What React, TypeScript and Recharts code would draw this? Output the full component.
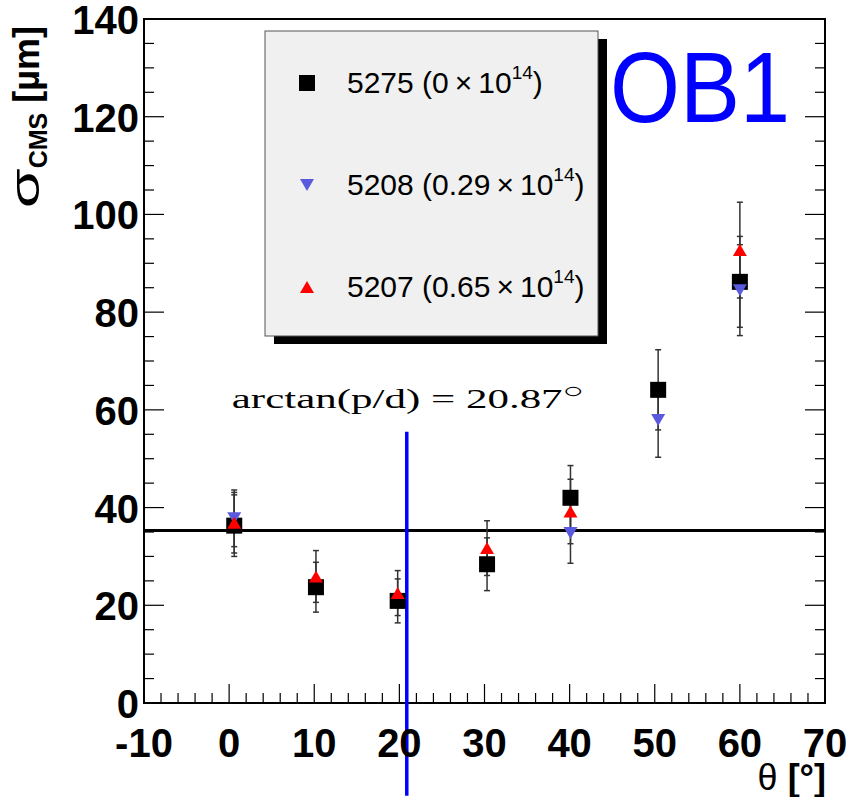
import { ScatterChart, Scatter, XAxis, YAxis, ErrorBar, ReferenceLine, ReferenceArea } from "recharts";

// angles (deg) of the measured points
const theta = [0.6, 10.2, 19.8, 30.3, 40.1, 50.4, 60.0];

// resolution per sample, null = no point drawn
const sigma5275 = [36.3, 23.7, 20.9, 28.4, 42.0, 64.1, 86.2];
const err5275 = [6.3, 5.1, 4.5, 5.4, 6.6, 8.2, 9.3];
const sigma5208 = [37.8, null, null, null, 34.8, 57.9, 84.5];
const err5208 = [5.8, null, null, null, 6.2, 7.6, 9.3];
const sigma5207 = [36.9, 25.9, 22.5, 31.7, 39.2, null, 92.7];
const err5207 = [6.2, 5.3, 4.6, 5.6, 6.6, null, 9.8];

const legendNames = ["5275 (0", "5208 (0.29", "5207 (0.65"];

const meanLine = 35.3;
const magicAngle = 20.87;

const xTicks = [-10, -8, -6, -4, -2, 0, 2, 4, 6, 8, 10, 12, 14, 16, 18, 20, 22, 24, 26, 28, 30, 32, 34, 36, 38, 40, 42, 44, 46, 48, 50, 52, 54, 56, 58, 60, 62, 64, 66, 68, 70];
const yTicks = [0, 5, 10, 15, 20, 25, 30, 35, 40, 45, 50, 55, 60, 65, 70, 75, 80, 85, 90, 95, 100, 105, 110, 115, 120, 125, 130, 135, 140];

const FONT = "'Liberation Sans', Arial, Helvetica, sans-serif";
const BLUE_MK = "#5a5ade";

const toPoints = (ys: (number | null)[], es: (number | null)[]) =>
  theta
    .map((t, i) => ({ x: t, y: ys[i], err: es[i] }))
    .filter((d) => d.y !== null);

const data5275 = toPoints(sigma5275, err5275);
const data5208 = toPoints(sigma5208, err5208);
const data5207 = toPoints(sigma5207, err5207);

const Square = (props: any) => {
  const { cx, cy } = props;
  return <rect x={cx - 8} y={cy - 8} width={16} height={16} fill="#000" />;
};
const TriDown = (props: any) => {
  const { cx, cy } = props;
  return <path d={`M${cx - 7},${cy - 6}L${cx + 7},${cy - 6}L${cx},${cy + 6}Z`} fill={BLUE_MK} />;
};
const TriUp = (props: any) => {
  const { cx, cy } = props;
  return <path d={`M${cx - 7},${cy + 6}L${cx + 7},${cy + 6}L${cx},${cy - 6}Z`} fill="#ff0000" />;
};

const BottomTick = (props: any) => {
  const { x, y, payload } = props;
  const major = payload.value % 10 === 0;
  return (
    <g>
      <line x1={x} x2={x} y1={y} y2={y - (major ? 19 : 10)} stroke="#000" strokeWidth={1.2} />
      {major && (
        <text x={x} y={y + 40} textAnchor="middle" dominantBaseline="central" fontSize={40} fontWeight="bold" fontFamily={FONT} fill="#000">
          {payload.value}
        </text>
      )}
    </g>
  );
};

const LeftTick = (props: any) => {
  const { x, y, payload } = props;
  const major = payload.value % 20 === 0;
  return (
    <g>
      <line x1={x} x2={x + (major ? 20 : 10)} y1={y} y2={y} stroke="#000" strokeWidth={1.2} />
      {major && (
        <text x={x - 5} y={y + 1} textAnchor="end" dominantBaseline="central" fontSize={40} fontWeight="bold" fontFamily={FONT} fill="#000">
          {payload.value}
        </text>
      )}
    </g>
  );
};

const RightTick = (props: any) => {
  const { x, y, payload } = props;
  const major = payload.value % 20 === 0;
  return <line x1={x} x2={x - (major ? 20 : 10)} y1={y} y2={y} stroke="#000" strokeWidth={1.2} />;
};

const AngleLabel = (props: any) => {
  const { viewBox } = props;
  return (
    <text
      x={viewBox.x + 1}
      y={viewBox.y - 24}
      textAnchor="middle"
      fontSize={27}
      fontFamily="'Liberation Serif', 'DejaVu Serif', serif"
      fill="#000"
      textLength={352}
      lengthAdjust="spacingAndGlyphs"
    >
      arctan(p/d) = {magicAngle}
      <tspan dy={-10} fontSize={22}>○</tspan>
    </text>
  );
};

const LegendMarker = ({ i, cx, cy }: { i: number; cx: number; cy: number }) => {
  if (i === 0) return <Square cx={cx} cy={cy} />;
  if (i === 1) return <TriDown cx={cx} cy={cy} />;
  return <TriUp cx={cx} cy={cy} />;
};

export default function App() {
  return (
    <div style={{ position: "absolute", left: 0, top: 0, width: 850, height: 797, background: "#fff" }}>
      <ScatterChart width={850} height={797} margin={{ top: 19, right: 20, bottom: 64, left: 84 }}>
        <XAxis
          type="number"
          dataKey="x"
          domain={[-10, 70]}
          ticks={xTicks}
          interval={0}
          tickSize={0}
          tickMargin={0}
          tickLine={false}
          axisLine={false}
          height={30}
          tick={<BottomTick />}
        />
        <YAxis
          yAxisId="l"
          type="number"
          dataKey="y"
          domain={[0, 140]}
          ticks={yTicks}
          interval={0}
          tickSize={0}
          tickMargin={0}
          tickLine={false}
          axisLine={false}
          width={60}
          tick={<LeftTick />}
        />
        <YAxis
          yAxisId="r"
          orientation="right"
          type="number"
          dataKey="y"
          domain={[0, 140]}
          ticks={yTicks}
          interval={0}
          tickSize={0}
          tickMargin={0}
          tickLine={false}
          axisLine={false}
          width={5}
          tick={<RightTick />}
        />
        <ReferenceArea yAxisId="l" x1={-10} x2={70} y1={0} y2={140} fill="none" stroke="#000" strokeWidth={2} />
        <Scatter yAxisId="r" data={data5275} shape={() => <g />} isAnimationActive={false} />
        <ReferenceLine yAxisId="l" y={meanLine} stroke="#000" strokeWidth={3} />
        <ReferenceLine
          yAxisId="l"
          segment={[{ x: magicAngle, y: -19 }, { x: magicAngle, y: 55.5 }]}
          stroke="#0000ff"
          strokeWidth={3.5}
          ifOverflow="visible"
          label={<AngleLabel />}
        />
        <Scatter yAxisId="l" data={data5275} shape={<Square />} isAnimationActive={false}>
          <ErrorBar dataKey="err" direction="y" width={3} stroke="#333" strokeWidth={1.5} />
        </Scatter>
        <Scatter yAxisId="l" data={data5208} shape={<TriDown />} isAnimationActive={false}>
          <ErrorBar dataKey="err" direction="y" width={3} stroke="#333" strokeWidth={1.5} />
        </Scatter>
        <Scatter yAxisId="l" data={data5207} shape={<TriUp />} isAnimationActive={false}>
          <ErrorBar dataKey="err" direction="y" width={3} stroke="#333" strokeWidth={1.5} />
        </Scatter>
      </ScatterChart>

      <svg width={850} height={797} style={{ position: "absolute", left: 0, top: 0, pointerEvents: "none" }}>
        {/* legend box with shadow */}
        <rect x={274} y={39} width={333} height={305} fill="#000" />
        <rect x={265} y={31} width={333} height={305} fill="#f0f0f0" stroke="#555" strokeWidth={1} />
        {legendNames.map((name, i) => {
          const cy = 83 + i * 102;
          return (
            <g key={name}>
              <LegendMarker i={i} cx={307} cy={cy} />
              <text x={347} y={cy + 10} fontSize={30} fontFamily={FONT} fill="#000">
                {name}
                <tspan dx={6}>×</tspan>
                <tspan dx={6}>10</tspan>
                <tspan dy={-14} fontSize={19}>14</tspan>
                <tspan dy={14}>)</tspan>
              </text>
            </g>
          );
        })}

        <text x={610} y={122} fontSize={100} fontFamily={FONT} fill="#0000ff" textLength={180} lengthAdjust="spacingAndGlyphs">
          OB1
        </text>

        {/* y axis title */}
        <text transform="rotate(-90)" x={-26} y={39} textAnchor="end" fontFamily={FONT} fill="#000">
          <tspan fontSize={40} textLength={40} lengthAdjust="spacingAndGlyphs">σ</tspan>
          <tspan fontSize={25} fontWeight="bold" dy={8}>CMS</tspan>
          <tspan fontSize={36} fontWeight="bold" dy={-8}> [µm]</tspan>
        </text>

        {/* x axis title */}
        <text x={826} y={790} textAnchor="end" fontFamily={FONT} fill="#000" fontSize={36}>
          <tspan>θ</tspan>
          <tspan fontWeight="bold"> [°]</tspan>
        </text>
      </svg>
    </div>
  );
}
